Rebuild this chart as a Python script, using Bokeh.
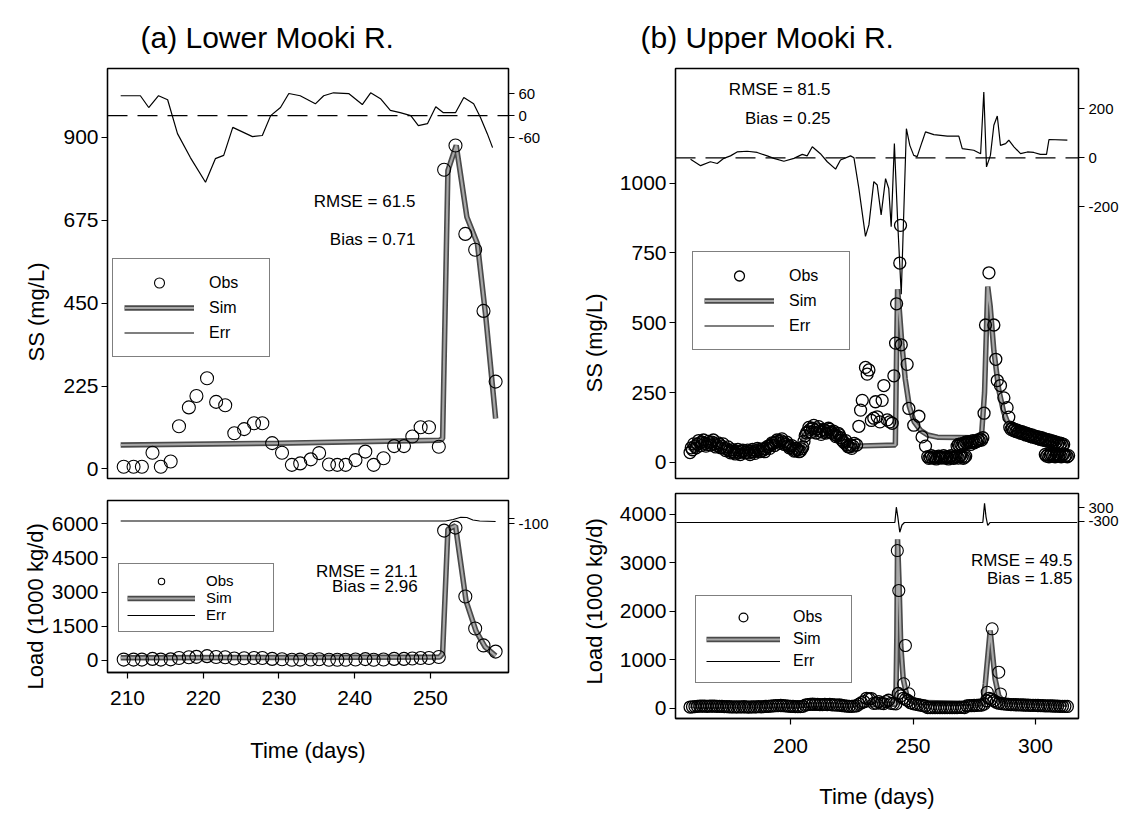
from bokeh.plotting import figure
from bokeh.models import Range1d, LinearAxis, Legend, LegendItem, Label, Span, FixedTicker, Title
from bokeh.layouts import row, column
from bokeh.embed import file_html
from bokeh.resources import INLINE

FONT = "Liberation Sans"

# ---------------- (a) Lower Mooki R. ----------------
a_obs_day = [209.5, 210.8, 211.9, 213.3, 214.4, 215.7, 216.8, 218.1, 219.1, 220.5,
             221.7, 222.9, 224.1, 225.4, 226.7, 227.8, 229.1, 230.4, 231.7, 232.8,
             234.2, 235.3, 236.6, 237.7, 238.8, 240.1, 241.4, 242.5, 243.8, 245.2,
             246.5, 247.6, 248.7, 249.8, 251.1, 251.8, 253.3, 254.6, 255.9, 257.0, 258.6]
a_obs_ss = [6, 6, 6, 44, 6, 20, 116, 167, 198, 246,
            182, 173, 97, 108, 124, 124, 70, 44, 11, 15,
            26, 43, 12, 11, 11, 24, 47, 11, 29, 62,
            62, 88, 113, 113, 60, 812, 878, 638, 595, 429, 237]
a_sim_day = [209.1, 230.0, 251.2, 251.6, 252.3, 253.4, 254.8, 256.2, 257.3, 258.6]
a_sim_ss = [65, 70, 78, 82, 810, 878, 684, 611, 413, 137]
a_err_day = [209.1, 211.7, 212.8, 214.1, 215.3, 216.6, 218.3, 220.3, 221.6, 222.7,
             223.9, 226.5, 227.8, 228.9, 230.2, 231.3, 232.8, 234.8, 235.9, 237.2,
             239.2, 241.0, 242.1, 243.4, 244.7, 246.0, 247.4, 248.4, 249.6, 250.7,
             251.7, 253.3, 254.4, 255.7, 256.6, 257.5, 258.2]
a_err_ss = [54, 54, 22, 54, 43, -49, -114, -181, -117, -108,
            -32, -57, -54, 0, 22, 60, 54, 32, 54, 62,
            60, 30, 62, 46, 14, 8, 0, -27, -22, 24,
            8, 8, 49, 32, -5, -49, -87]
a_load_obs = [40, 40, 40, 70, 40, 50, 110, 140, 160, 190,
              150, 140, 90, 100, 110, 110, 70, 55, 35, 40,
              45, 55, 35, 35, 35, 45, 60, 35, 45, 70,
              70, 90, 110, 110, 150, 5690, 5820, 2800, 1400, 660, 390]
a_load_sim_day = [209.1, 230.0, 251.2, 251.6, 252.3, 253.3, 254.7, 256.0, 257.2, 258.6]
a_load_sim = [120, 130, 150, 300, 5750, 5900, 2600, 1300, 600, 200]
a_load_err_day = [209.1, 252.0, 253.0, 254.0, 254.8, 255.6, 256.5, 258.6]
a_load_err = [0, 0, 60, 150, 140, 40, 0, -20]

# ---------------- (b) Upper Mooki R. ----------------
# dense early record, every half day from day 159
b_obs_day1 = [159 + 0.5 * i for i in range(134)]
b_obs_ss1 = [35, 52, 45, 66, 58, 52, 65, 78, 70, 60, 72, 80, 68, 58, 64, 75, 70, 62, 72, 80,
             66, 55, 60, 70, 64, 52, 58, 66, 50, 42, 48, 55, 42, 34, 38, 45, 36, 30, 40, 46,
             35, 28, 38, 44, 42, 34, 36, 44, 34, 28, 40, 46, 38, 32, 42, 50, 45, 38, 40, 48,
             44, 38, 50, 56, 58, 50, 62, 70, 68, 60, 72, 80, 75, 68, 78, 84, 72, 64, 66, 72,
             60, 52, 55, 60, 48, 40, 42, 50, 45, 38, 40, 48, 55, 75, 95, 105, 110, 125, 118, 108,
             122, 132, 115, 105, 120, 128, 112, 100, 108, 118, 115, 105, 110, 122, 118, 108, 105, 112, 100, 92,
             95, 104, 98, 88, 80, 74, 70, 78, 62, 56, 55, 62, 50, 58]
# scattered samples through the first event
b_obs_day2 = [226.0, 227.0, 227.9, 228.6, 229.3, 230.6, 231.3, 232.0, 233.0, 234.0,
              234.7, 235.4, 236.5, 237.4, 238.1, 239.5, 240.5, 241.5, 242.2, 242.9,
              243.3, 244.6, 244.9, 245.2, 247.6, 248.3, 250.3, 252.4, 253.7, 255.1]
b_obs_ss2 = [68, 62, 129, 187, 222, 340, 316, 331, 150, 158,
             217, 163, 145, 222, 275, 152, 145, 140, 310, 427,
             568, 714, 849, 421, 351, 193, 133, 165, 91, 58]
# low record after the first event
b_obs_day3 = [256 + 0.5 * i for i in range(32)]
b_obs_ss3 = [20, 14, 18, 24, 15, 20, 16, 12, 18, 22, 20, 15, 18, 24, 15, 20,
             17, 12, 20, 24, 18, 14, 16, 22, 20, 15, 22, 26, 20, 14, 18, 22]
b_obs_day4 = [268 + 0.5 * i for i in range(22)]
b_obs_ss4 = [58, 64, 60, 66, 62, 68, 65, 72, 68, 74, 70, 64, 72, 78, 70, 76, 74, 80, 78, 84, 80, 88]
# second event
b_obs_day5 = [279.0, 279.6, 281.0, 283.0, 283.8, 284.4, 285.7, 287.1, 288.4, 289.1]
b_obs_ss5 = [176, 492, 679, 492, 369, 293, 275, 231, 196, 162]
# recession and final low samples
b_obs_day6 = [289.5 + 0.5 * i for i in range(45)]
b_obs_ss6 = [126, 118, 122, 114, 118, 110, 115, 108, 112, 104, 110, 102, 106, 98, 104, 96, 100, 92,
             98, 90, 95, 88, 92, 85, 90, 82, 88, 80, 85, 78, 82, 75, 80, 72, 78, 70, 75, 68,
             72, 65, 70, 62, 68, 60, 64]
b_obs_day7 = [304 + 0.5 * i for i in range(20)]
b_obs_ss7 = [28, 22, 26, 20, 25, 30, 22, 26, 20, 24, 28, 22, 25, 20, 26, 30, 22, 25, 20, 24]

b_sim_day = [159, 161, 164, 168, 172, 176, 186, 190, 196, 201, 204, 206, 209, 214, 218, 221, 223,
             226, 242.8, 243.3, 243.7, 244.3, 245.5, 246.8, 248.5, 250.5, 253, 256, 260, 276, 278,
             279.2, 280.5, 281.5, 283, 285, 287, 289, 292, 297, 302, 307, 311]
b_sim_ss = [40, 60, 70, 68, 58, 40, 40, 50, 75, 48, 42, 100, 120, 112, 105, 80, 62,
            58, 62, 400, 620, 560, 420, 300, 200, 145, 115, 98, 90, 88, 100,
            250, 630, 560, 400, 260, 180, 135, 115, 105, 90, 80, 70]
b_err_day = [159.2, 163.3, 167.3, 170.1, 172.8, 175.5, 178.2, 182.3, 186.4, 190.5,
             193.2, 197.3, 201.4, 204.8, 206.8, 208.9, 212.2, 215.0, 218.4, 220.4,
             224.5, 225.9, 227.9, 230.6, 232.0, 234.0, 235.4, 237.0, 238.8, 240.1,
             241.1, 242.4, 243.8, 245.2, 247.3, 248.7, 250.3, 251.7, 253.7, 255.1,
             258.5, 264.0, 268.7, 270.1, 274.8, 277.6, 278.9, 280.0, 281.6, 283.0,
             284.4, 285.7, 287.8, 289.1, 291.2, 293.9, 296.7, 299.3, 302.0, 304.5,
             305.5, 313.0]
b_err_ss = [-6, -32, -16, -23, -2, 8, 24, 27, 22, 8,
            -2, -14, -2, 14, 8, 45, 17, -16, -46, -9,
            8, 0, -125, -321, -274, -97, -111, -233, -85, -125,
            -281, 58, -274, -557, 119, 51, 10, 5, 65, 106,
            95, 89, 89, 38, 31, 17, 269, -37, 10, 133,
            171, 51, 58, 72, 45, 17, 24, 22, 14, 14,
            75, 72]
b_load_day = list(range(159, 314))
b_load_obs = [20, 25, 30, 35, 38, 40, 38, 36, 38, 40, 38, 35, 36, 34, 30, 28, 26, 24, 22, 24,
              22, 24, 26, 22, 20, 24, 22, 25, 28, 25, 28, 32, 36, 40, 44, 48, 50, 52, 48, 44,
              40, 36, 32, 28, 30, 28, 35, 60, 70, 75, 78, 74, 76, 72, 70, 74, 70, 75, 68, 64,
              60, 62, 52, 45, 40, 36, 34,
              40, 45, 80, 110, 130, 200, 190, 195, 95, 100, 130, 100, 90, 130, 160, 95, 90, 85,
              300, 250, 200, 180, 150, 110, 90, 80, 70, 60, 50, 40,
              10, 10, 8, 8, 10, 10, 8, 8, 10, 10, 8, 8, 10, 12, 12, 10,
              45, 48, 50, 52, 55, 58, 60,
              80, 150, 200, 180, 150, 120, 100, 90, 85, 80, 75,
              72, 70, 68, 66, 64, 62, 60, 58, 56, 55, 54, 52, 50, 48, 46, 45, 44, 42, 40, 38,
              36, 35, 34, 33]
b_load_pk_day = [243.6, 244.2, 246.2, 246.9, 248.3, 280.3, 282.3, 285.0, 285.7]
b_load_pk = [3247, 2423, 499, 1289, 293, 326, 1633, 738, 290]
b_load_sim_day = [159, 225, 243.0, 243.4, 243.7, 244.3, 245.0, 246.0, 247.5, 250,
                  278.5, 279.5, 281.5, 282.5, 283.5, 285, 287, 313]
b_load_sim = [50, 60, 80, 1500, 3480, 2600, 1300, 600, 250, 120,
              90, 500, 1600, 1100, 600, 250, 130, 80]
b_load_err_day = [153.5, 242.6, 243.2, 243.8, 244.6, 245.5, 246.5, 278.5, 279.2, 279.8, 280.5, 281.5, 317.0]
b_load_err = [-343, -343, 313, -100, -760, -450, -343, -343, 485, -100, -472, -343, -343]

b_obs_day = b_obs_day1 + b_obs_day2 + b_obs_day3 + b_obs_day4 + b_obs_day5 + b_obs_day6 + b_obs_day7
b_obs_ss = b_obs_ss1 + b_obs_ss2 + b_obs_ss3 + b_obs_ss4 + b_obs_ss5 + b_obs_ss6 + b_obs_ss7

# ---------------- helpers ----------------
SIM_DARK = "#4a4a4a"
SIM_LIGHT = "#a8a8a8"


def make_fig(xr, yr, fw, fh, bl, br, bt, bb):
    p = figure(x_range=Range1d(*xr), y_range=Range1d(*yr), frame_width=fw, frame_height=fh,
               min_border_left=bl, min_border_right=br, min_border_top=bt, min_border_bottom=bb,
               output_backend="svg", toolbar_location=None)
    p.grid.visible = False
    p.outline_line_color = "black"
    p.outline_line_width = 1.3
    p.outline_line_alpha = 1
    p.background_fill_color = "white"
    p.border_fill_color = "white"
    return p


def style_axis(ax, size="21px", standoff=3, label_size="22px", label_standoff=5):
    ax.axis_line_color = "black"
    ax.axis_line_width = 1.3
    ax.major_tick_line_color = "black"
    ax.major_tick_line_width = 1.2
    ax.major_tick_out = 6
    ax.major_tick_in = 0
    ax.minor_tick_line_color = None
    ax.major_label_text_font = FONT
    ax.major_label_text_font_size = size
    ax.major_label_text_color = "black"
    ax.major_label_standoff = standoff
    ax.axis_label_text_font = FONT
    ax.axis_label_text_font_size = label_size
    ax.axis_label_text_font_style = "normal"
    ax.axis_label_text_color = "black"
    ax.axis_label_standoff = label_standoff


def add_err_axis(p, rng, ticks, overrides):
    p.extra_y_ranges = {"err": Range1d(*rng)}
    ax = LinearAxis(y_range_name="err", ticker=FixedTicker(ticks=ticks))
    style_axis(ax, size="15px", standoff=4)
    ax.major_label_overrides = overrides
    p.add_layout(ax, "right")


def draw_series(p, obs_x, obs_y, sim_x, sim_y, err_x, err_y, size=12, lw=1.1):
    r_sim1 = p.line(sim_x, sim_y, line_color=SIM_DARK, line_width=5.5)
    r_sim2 = p.line(sim_x, sim_y, line_color=SIM_LIGHT, line_width=2.2)
    r_obs = p.scatter(obs_x, obs_y, marker="circle", size=size, fill_color=None,
                      line_color="black", line_width=lw)
    r_err = p.line(err_x, err_y, y_range_name="err", line_color="black", line_width=1.2)
    return r_obs, [r_sim1, r_sim2], r_err


def add_legend(p, r_obs, r_sims, r_err, loc, pad, gw, gh, standoff, lw, fs="16px"):
    leg = Legend(items=[LegendItem(label="Obs", renderers=[r_obs]),
                        LegendItem(label="Sim", renderers=r_sims),
                        LegendItem(label="Err", renderers=[r_err])],
                 location=loc, orientation="vertical")
    leg.border_line_color = "black"
    leg.border_line_width = 1.2
    leg.background_fill_color = "white"
    leg.background_fill_alpha = 1
    leg.padding = pad
    leg.spacing = 0
    leg.margin = 0
    leg.glyph_width = gw
    leg.glyph_height = gh
    leg.label_height = gh
    leg.label_width = lw
    leg.label_standoff = standoff
    leg.label_text_font = FONT
    leg.label_text_font_size = fs
    leg.label_text_color = "black"
    p.add_layout(leg)


def add_text(p, x, y, txt):
    p.add_layout(Label(x=x, y=y, text=txt, text_align="right", text_baseline="middle",
                       text_font=FONT, text_font_size="17px", text_color="black"))


def add_ylabel(p, txt, offset, standoff):
    p.add_layout(Title(text=txt, align="left", offset=offset, standoff=standoff,
                       text_font=FONT, text_font_size="22px", text_font_style="normal",
                       text_color="black"), "left")


def style_title(p, txt, offset):
    p.title.text = txt
    p.title.text_font = FONT
    p.title.text_font_size = "30px"
    p.title.text_font_style = "normal"
    p.title.text_color = "black"
    p.title.align = "left"
    p.title.offset = offset
    p.title.standoff = 30


# ---------------- panel a, top ----------------
A_X = (207.36, 260.30)
pa1 = make_fig(A_X, (-26, 1087), 401, 410, 107, 60, 68, 11)
style_title(pa1, "(a) Lower Mooki R.", 33)
pa1.xaxis.visible = False
pa1.yaxis.ticker = FixedTicker(ticks=[0, 225, 450, 675, 900])
style_axis(pa1.yaxis[0])
add_ylabel(pa1, "SS (mg/L)", 117, 24)
add_err_axis(pa1, (-986, 128), [-60, 0, 60], {-60: "-60", 0: "0", 60: "60"})
pa1.add_layout(Span(location=0, dimension="width", y_range_name="err", line_color="black",
                    line_width=1.2, line_dash="20 10"))
o, s, e = draw_series(pa1, a_obs_day, a_obs_ss, a_sim_day, a_sim_ss, a_err_day, a_err_ss, size=13)
add_legend(pa1, o, s, e, (5, 121), 11, 70, 25, 15, 49)
add_text(pa1, 248.0, 725, "RMSE = 61.5")
add_text(pa1, 248.0, 623, "Bias = 0.71")

# ---------------- panel a, bottom ----------------
pa2 = make_fig(A_X, (-526, 7008), 401, 172, 107, 60, 11, 90)
pa2.xaxis.ticker = FixedTicker(ticks=[210, 220, 230, 240, 250])
pa2.xaxis.axis_label = "Time (days)"
style_axis(pa2.xaxis[0], standoff=12, label_standoff=30)
pa2.yaxis.ticker = FixedTicker(ticks=[0, 1500, 3000, 4500, 6000])
style_axis(pa2.yaxis[0])
add_ylabel(pa2, "Load (1000 kg/d)", -17, 2)
add_err_axis(pa2, (-6060, 820), [-100, 100], {-100: "-100", 100: ""})
o, s, e = draw_series(pa2, a_obs_day, a_load_obs, a_load_sim_day, a_load_sim,
                      a_load_err_day, a_load_err, size=13)
add_legend(pa2, o, s, e, (11, 40), 8, 68, 16, 11, 59, "15px")
add_text(pa2, 248.3, 3898, "RMSE = 21.1")
add_text(pa2, 248.3, 3241, "Bias = 2.96")

# ---------------- panel b, top ----------------
B_X = (153.06, 317.55)
pb1 = make_fig(B_X, (-58, 1411), 403, 410, 107, 46, 68, 7)
style_title(pb1, "(b) Upper Mooki R.", -35)
pb1.xaxis.visible = False
pb1.yaxis.ticker = FixedTicker(ticks=[0, 250, 500, 750, 1000])
style_axis(pb1.yaxis[0])
add_ylabel(pb1, "SS (mg/L)", 86, 20)
add_err_axis(pb1, (-1310, 365), [-200, 0, 200], {-200: "-200", 0: "0", 200: "200"})
pb1.add_layout(Span(location=0, dimension="width", y_range_name="err", line_color="black",
                    line_width=1.2, line_dash="20 10"))
o, s, e = draw_series(pb1, b_obs_day, b_obs_ss, b_sim_day, b_sim_ss, b_err_day, b_err_ss, lw=1.3)
add_legend(pb1, o, s, e, (17, 128), 11, 70, 25, 15, 49)
add_text(pb1, 216.3, 1335, "RMSE = 81.5")
add_text(pb1, 216.3, 1231, "Bias = 0.25")

# ---------------- panel b, bottom ----------------
pb2 = make_fig(B_X, (-216, 4423), 403, 225, 107, 46, 8, 90)
pb2.xaxis.ticker = FixedTicker(ticks=[200, 250, 300])
pb2.xaxis.axis_label = "Time (days)"
style_axis(pb2.xaxis[0], standoff=14, label_standoff=28)
pb2.yaxis.ticker = FixedTicker(ticks=[0, 1000, 2000, 3000, 4000])
style_axis(pb2.yaxis[0])
add_ylabel(pb2, "Load (1000 kg/d)", 34, 20)
add_err_axis(pb2, (-8755, 901), [-300, 300], {-300: "-300", 300: "300"})
r_sim1 = pb2.line(b_load_sim_day, b_load_sim, line_color=SIM_DARK, line_width=5.5)
r_sim2 = pb2.line(b_load_sim_day, b_load_sim, line_color=SIM_LIGHT, line_width=2.2)
r_obs = pb2.scatter(b_load_day, b_load_obs, marker="circle", size=12, fill_color=None,
                    line_color="black", line_width=1.3)
pb2.scatter(b_load_pk_day, b_load_pk, marker="circle", size=12, fill_color=None,
            line_color="black", line_width=1.1)
r_err = pb2.line(b_load_err_day, b_load_err, y_range_name="err", line_color="black", line_width=1.2)
add_legend(pb2, r_obs, [r_sim1, r_sim2], r_err, (20, 35), 10, 74, 22, 13, 48)
add_text(pb2, 315.1, 3041, "RMSE = 49.5")
add_text(pb2, 315.1, 2670, "Bias = 1.85")

layout = row(column(pa1, pa2), column(pb1, pb2))
open("out.html", "w").write(file_html(layout, INLINE))
